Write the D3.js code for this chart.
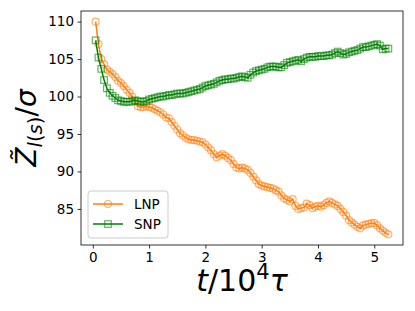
<!DOCTYPE html>
<html>
<head>
<meta charset="utf-8">
<script src="https://cdn.jsdelivr.net/npm/d3@7"></script>
<style>
  body { margin: 0; background: #fff; }
  svg { display: block; font-family: "DejaVu Sans", sans-serif; }
</style>
</head>
<body>
<div></div>
<script>
// time in units of 10^4 tau, sampled every 0.05
const times = d3.range(105).map(i => +(0.05 + i * 0.05).toFixed(2));

const lnp = [110.0, 107.0, 105.0, 104.3, 103.6, 103.3, 103.0, 102.6, 102.1, 101.8,
    101.4, 100.9, 100.5, 100.0, 99.3, 98.7, 98.6, 98.6, 98.7, 98.6,
    98.5, 98.3, 98.1, 97.9, 97.6, 97.2, 97.1, 96.6, 96.1, 95.6,
    95.1, 94.8, 94.5, 94.3, 94.2, 94.2, 94.1, 94.0, 93.9, 93.6,
    93.2, 92.8, 92.3, 91.9, 92.1, 92.3, 92.1, 91.8, 91.5, 91.0,
    90.5, 90.4, 90.5, 90.4, 90.2, 89.8, 89.3, 88.8, 88.3, 88.1,
    88.0, 87.9, 87.8, 87.7, 87.5, 87.3, 86.8, 86.4, 86.2, 86.0,
    86.3, 85.4, 85.0, 85.1, 85.2, 85.7, 85.5, 85.1, 85.3, 85.4,
    85.3, 85.5, 85.8, 86.0, 85.8, 85.6, 85.4, 85.0, 84.6, 84.1,
    83.5, 83.2, 82.9, 82.6, 82.4, 82.8, 82.9, 83.0, 83.1, 83.1,
    82.8, 82.4, 82.1, 81.8, 81.6];

const snp = [107.5, 105.2, 103.7, 102.2, 101.1, 100.5, 100.1, 99.8, 99.5, 99.4,
    99.3, 99.3, 99.3, 99.4, 99.5, 99.4, 99.3, 99.3, 99.4, 99.6,
    99.7, 99.8, 99.9, 100.0, 100.0, 100.1, 100.2, 100.2, 100.3, 100.4,
    100.4, 100.4, 100.5, 100.6, 100.7, 100.8, 100.9, 101.0, 101.2, 101.4,
    101.5, 101.6, 101.7, 101.9, 102.1, 102.2, 102.3, 102.3, 102.4, 102.4,
    102.5, 102.6, 102.7, 102.6, 102.5, 102.9, 103.2, 103.4, 103.5, 103.6,
    103.7, 103.9, 104.0, 104.0, 104.0, 103.9, 103.9, 104.2, 104.5, 104.6,
    104.7, 104.8, 104.9, 104.7, 105.0, 105.2, 105.3, 105.3, 105.3, 105.4,
    105.4, 105.4, 105.5, 105.5, 105.6, 105.8, 106.0, 105.8, 105.6, 105.7,
    105.9, 106.0, 106.1, 106.2, 106.4, 106.6, 106.6, 106.7, 106.8, 106.9,
    107.0, 106.8, 106.3, 106.4, 106.4];

const xTicks = [0, 1, 2, 3, 4, 5];
const yTicks = [85, 90, 95, 100, 105, 110];
const seriesNames = ["LNP", "SNP"];

const width = 415, height = 311;
const margin = { top: 11, right: 12, bottom: 66, left: 81 };
const innerWidth = width - margin.left - margin.right;
const innerHeight = height - margin.top - margin.bottom;

const svg = d3.select("div").append("svg").attr("width", width).attr("height", height);
const chart = svg.append("g").attr("transform", `translate(${margin.left},${margin.top})`);

// matplotlib-style 5% padding around the data
const xPad = (d3.max(times) - d3.min(times)) * 0.05;
const allY = lnp.concat(snp);
const yPad = (d3.max(allY) - d3.min(allY)) * 0.05;
const xScale = d3.scaleLinear().domain([d3.min(times) - xPad, d3.max(times) + xPad]).range([0, innerWidth]);
const yScale = d3.scaleLinear().domain([d3.min(allY) - yPad, d3.max(allY) + yPad]).range([innerHeight, 0]);

const xAxis = d3.axisBottom(xScale).tickValues(xTicks).tickFormat(d3.format("d"))
    .tickSize(3.5).tickPadding(3.5).tickSizeOuter(0);
const yAxis = d3.axisLeft(yScale).tickValues(yTicks).tickFormat(d3.format("d"))
    .tickSize(3.5).tickPadding(3.5).tickSizeOuter(0);

const gx = chart.append("g").attr("transform", `translate(0,${innerHeight})`).call(xAxis);
const gy = chart.append("g").call(yAxis);
[gx, gy].forEach(g => {
    g.select(".domain").remove();
    g.selectAll("text").attr("font-size", 13.5).attr("fill", "#000").attr("font-family", "DejaVu Sans");
    g.selectAll("line").attr("stroke", "#000").attr("stroke-width", 0.8);
});

const series = [
    { name: seriesNames[0], values: lnp, color: "#ff7f0e", shape: "circle" },
    { name: seriesNames[1], values: snp, color: "#008000", shape: "square" }
];

const line = d3.line().x((d, i) => xScale(times[i])).y(d => yScale(d));

function drawMarker(g, shape, color) {
    if (shape === "circle") {
        g.append("circle").attr("r", 3.5).attr("fill", "none")
            .attr("stroke", color).attr("stroke-opacity", 0.6).attr("stroke-width", 1.2);
    } else {
        g.append("rect").attr("x", -3.3).attr("y", -3.3).attr("width", 6.6).attr("height", 6.6).attr("fill", "none")
            .attr("stroke", color).attr("stroke-opacity", 0.6).attr("stroke-width", 1.2);
    }
}

series.forEach(s => {
    chart.append("path").datum(s.values).attr("d", line)
        .attr("fill", "none").attr("stroke", s.color).attr("stroke-width", 1.5);
    chart.append("g").selectAll("g").data(s.values).enter().append("g")
        .attr("transform", (d, i) => `translate(${xScale(times[i])},${yScale(d)})`)
        .each(function () { drawMarker(d3.select(this), s.shape, s.color); });
});

// frame
chart.append("rect").attr("width", innerWidth).attr("height", innerHeight)
    .attr("fill", "none").attr("stroke", "#000").attr("stroke-width", 0.8);

// legend
const legend = chart.append("g").attr("transform", "translate(7,180)");
legend.append("rect").attr("width", 80).attr("height", 47).attr("rx", 3)
    .attr("fill", "#fff").attr("fill-opacity", 0.8).attr("stroke", "#ccc").attr("stroke-width", 1);
series.forEach((s, i) => {
    const row = legend.append("g").attr("transform", `translate(0,${13 + i * 20})`);
    row.append("line").attr("x1", 5).attr("x2", 35).attr("stroke", s.color).attr("stroke-width", 1.5);
    drawMarker(row.append("g").attr("transform", "translate(20,0)"), s.shape, s.color);
    row.append("text").attr("x", 46).attr("dy", "0.36em").attr("font-size", 13.5).text(s.name);
});

// axis labels
svg.append("text").attr("x", margin.left + innerWidth / 2).attr("y", 291)
    .attr("text-anchor", "middle").attr("font-size", 30)
    .call(t => {
        t.append("tspan").attr("font-style", "italic").text("t");
        t.append("tspan").text("/10");
        t.append("tspan").attr("font-size", 21).attr("dy", -12).text("4");
        t.append("tspan").attr("font-style", "italic").attr("dy", 12).text("τ");
    });

svg.append("text").attr("transform", `translate(36,${margin.top + innerHeight / 2}) rotate(-90)`)
    .attr("text-anchor", "middle").attr("font-size", 28)
    .call(t => {
        t.append("tspan").attr("font-style", "italic").text("Z\u0303");
        t.append("tspan").attr("font-size", 19.6).attr("dy", 6)
            .call(s => {
                s.append("tspan").attr("font-style", "italic").text("l");
                s.append("tspan").text("(");
                s.append("tspan").attr("font-style", "italic").text("s");
                s.append("tspan").text(")");
            });
        t.append("tspan").attr("dy", -6).text("/");
        t.append("tspan").attr("font-style", "italic").text("σ");
    });
</script>
</body>
</html>
